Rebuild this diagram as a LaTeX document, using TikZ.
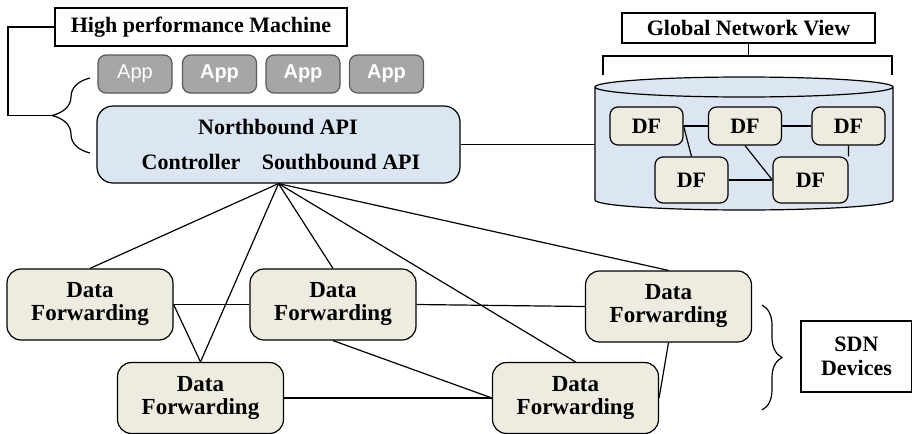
\documentclass[tikz,border=0pt]{standalone}
\usepackage{fontspec}
\setmainfont{Liberation Serif}
\newfontfamily\appfont{Liberation Sans}
\usetikzlibrary{positioning,calc}
\usetikzlibrary{decorations.pathreplacing}
\definecolor{ctrlblue}{RGB}{220,230,242}
\definecolor{fwdbeige}{RGB}{238,236,225}
\definecolor{appgray}{RGB}{166,166,166}

\begin{document}
\begin{tikzpicture}[x=0.5pt, y=-0.5pt, line width=0.6pt,
    box/.style={draw, inner sep=0pt, align=center, font=\fontsize{11}{12}\selectfont\bfseries},
    appbox/.style={draw=black!65, fill=appgray, rounded corners=4pt, minimum width=37pt,
        minimum height=19pt, inner sep=0pt, text=white, font=\appfont\fontsize{10}{12}\selectfont},
    ctrlbox/.style={draw, fill=ctrlblue, rounded corners=8pt, minimum width=181.5pt, minimum height=38.5pt},
    dfbox/.style={box, fill=fwdbeige, rounded corners=4pt, minimum width=36.5pt, minimum height=19pt},
    fwdbox/.style={box, fill=fwdbeige, rounded corners=7pt, minimum width=83pt, minimum height=35.5pt,
        font=\fontsize{11.5}{11.5}\selectfont\bfseries},
    txt/.style={inner sep=0pt, font=\fontsize{11}{12}\selectfont\bfseries}]
   \useasboundingbox (0,0) rectangle (912,434);

   \node[box, minimum width=146pt, minimum height=19pt] (hpm) at (201,27) {High performance Machine};
   \node[appbox] (app1) at (135,74) {App};
   \node[appbox, font=\appfont\bfseries\fontsize{10}{12}\selectfont] (app2) at (219.5,74) {App};
   \node[appbox, font=\appfont\bfseries\fontsize{10}{12}\selectfont] (app3) at (303,74) {App};
   \node[appbox, font=\appfont\bfseries\fontsize{10}{12}\selectfont] (app4) at (386.5,74) {App};
   \node[ctrlbox] (ctrl) at (278.5,144.5) {};
   \node[txt] (nbapi) at (278,127) {Northbound API};
   \node[txt] (ctrllabel) at (191,162) {Controller};
   \node[txt] (sbapi) at (341,162) {Southbound API};

   \draw[decorate, decoration={brace, amplitude=19pt}] (90,153) -- (90,78);
   \coordinate (appbrace) at (52,115.5);
   \draw (hpm.west) -- (8,27) |- (appbrace);

   % global view
   \node[box, minimum width=126.5pt, minimum height=15pt] (gnv) at (748.5,28) {Global Network View};
   \draw (gnv.south) -- (gnv.south |- 0,56);
   \draw (603,75) -- (603,56) -- (892,56) -- (892,75);
   \draw[fill=ctrlblue] (595,87) -- (595,200)
       arc[start angle=180, end angle=360, x radius=74.5pt, y radius=5pt] -- (893,87)
       arc[start angle=0, end angle=180, x radius=74.5pt, y radius=5pt] -- cycle;
   \draw (595,87) arc[start angle=180, end angle=360, x radius=74.5pt, y radius=5pt];
   \coordinate (dbleft) at (595,144.5);
   \draw (ctrl.east) -- (dbleft);

   \node[dfbox] (df1) at (646.5,126) {DF};
   \node[dfbox] (df2) at (745,126) {DF};
   \node[dfbox] (df3) at (848.5,126) {DF};
   \node[dfbox, minimum height=23pt] (df4) at (691.5,180) {DF};
   \node[dfbox, minimum height=23pt, minimum width=37.5pt] (df5) at (810.5,180) {DF};
   \draw (df1) -- (df2);
   \draw (df2) -- (df3);
   \draw (df1.east) -- (df4.north);
   \draw (df2.south) -- (df5.west);
   \draw (df3.south) -- (df5.north east);
   \draw (df4.east) -- (df5.west);

   % devices
   \node[fwdbox] (fw1) at (90,304.5) {Data\\Forwarding};
   \node[fwdbox] (fw2) at (333,304.5) {Data\\Forwarding};
   \node[fwdbox] (fw3) at (200.5,398) {Data\\Forwarding};
   \node[fwdbox] (fw4) at (668.5,306.5) {Data\\Forwarding};
   \node[fwdbox] (fw5) at (575.5,398) {Data\\Forwarding};
   \foreach \f in {fw1,fw2,fw3,fw4,fw5}
      \draw (ctrl.south) -- (\f.north);
   \draw (fw1.east) -- (fw2.west);
   \draw (fw1.east) -- (fw3.north);
   \draw (fw2.east) -- (fw4.west);
   \draw (fw2.south) -- (fw5.west);
   \draw (fw3.east) -- (fw5.west);
   \draw (fw4.south) -- (fw5.east);

   \draw[decorate, decoration={brace, amplitude=10pt}] (762,305) -- (762,410);
   \node[box, minimum width=55.5pt, minimum height=35.5pt] (sdn) at (856.5,356.5) {SDN\\Devices};
\end{tikzpicture}
\end{document}
